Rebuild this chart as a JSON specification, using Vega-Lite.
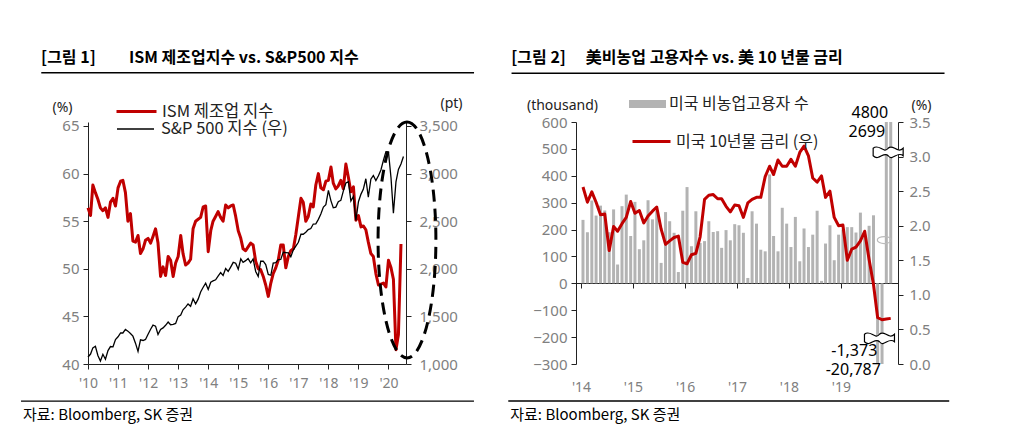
{
  "$schema": "https://vega.github.io/schema/vega-lite/v6.json",
  "padding": {"left": 20, "top": 50, "right": 10, "bottom": 10},
  "bounds": "flush",
  "spacing": 170,
  "config": {
    "font": "Noto Sans CJK KR",
    "view": {"stroke": null},
    "axis": {"grid": false, "labelColor": "#808080", "labelFontSize": 15, "labelFont": "Noto Sans", "tickColor": "#222", "domainColor": "#222", "tickSize": 5, "titleFontWeight": "normal", "titleFontSize": 14, "titleColor": "#222", "titleFont": "Noto Sans"},
    "text": {"font": "Noto Sans CJK KR"}
  },
  "datasets": {
    "left": [
      {"d":"2010-01-01","ism":56.4,"spx":1073.87},{"d":"2010-02-01","ism":55.6,"spx":1104.49},{"d":"2010-03-01","ism":58.8,"spx":1169.43},{"d":"2010-04-01","ism":58.0,"spx":1186.69},{"d":"2010-05-01","ism":57.3,"spx":1089.41},{"d":"2010-06-01","ism":56.4,"spx":1030.71},{"d":"2010-07-01","ism":56.1,"spx":1101.60},{"d":"2010-08-01","ism":56.4,"spx":1049.33},{"d":"2010-09-01","ism":55.4,"spx":1141.20},{"d":"2010-10-01","ism":57.0,"spx":1183.26},{"d":"2010-11-01","ism":57.4,"spx":1180.55},{"d":"2010-12-01","ism":56.6,"spx":1257.64},
      {"d":"2011-01-01","ism":58.5,"spx":1286.12},{"d":"2011-02-01","ism":59.2,"spx":1327.22},{"d":"2011-03-01","ism":59.3,"spx":1325.83},{"d":"2011-04-01","ism":58.0,"spx":1363.61},{"d":"2011-05-01","ism":55.0,"spx":1345.20},{"d":"2011-06-01","ism":55.8,"spx":1320.64},{"d":"2011-07-01","ism":52.9,"spx":1292.28},{"d":"2011-08-01","ism":52.8,"spx":1218.89},{"d":"2011-09-01","ism":53.5,"spx":1131.42},{"d":"2011-10-01","ism":51.6,"spx":1253.30},{"d":"2011-11-01","ism":52.1,"spx":1246.96},{"d":"2011-12-01","ism":53.0,"spx":1257.60},
      {"d":"2012-01-01","ism":53.2,"spx":1312.41},{"d":"2012-02-01","ism":52.7,"spx":1365.68},{"d":"2012-03-01","ism":53.4,"spx":1408.47},{"d":"2012-04-01","ism":54.2,"spx":1397.91},{"d":"2012-05-01","ism":52.7,"spx":1310.33},{"d":"2012-06-01","ism":49.2,"spx":1362.16},{"d":"2012-07-01","ism":50.2,"spx":1379.32},{"d":"2012-08-01","ism":49.3,"spx":1406.58},{"d":"2012-09-01","ism":51.3,"spx":1440.67},{"d":"2012-10-01","ism":50.9,"spx":1412.16},{"d":"2012-11-01","ism":49.2,"spx":1416.18},{"d":"2012-12-01","ism":50.6,"spx":1426.19},
      {"d":"2013-01-01","ism":51.3,"spx":1498.11},{"d":"2013-02-01","ism":53.5,"spx":1514.68},{"d":"2013-03-01","ism":51.6,"spx":1569.19},{"d":"2013-04-01","ism":50.4,"spx":1597.57},{"d":"2013-05-01","ism":50.6,"spx":1630.74},{"d":"2013-06-01","ism":51.0,"spx":1606.28},{"d":"2013-07-01","ism":54.2,"spx":1685.73},{"d":"2013-08-01","ism":55.0,"spx":1632.97},{"d":"2013-09-01","ism":55.2,"spx":1681.55},{"d":"2013-10-01","ism":55.4,"spx":1756.54},{"d":"2013-11-01","ism":56.5,"spx":1805.81},{"d":"2013-12-01","ism":56.6,"spx":1848.36},
      {"d":"2014-01-01","ism":51.8,"spx":1782.59},{"d":"2014-02-01","ism":54.0,"spx":1859.45},{"d":"2014-03-01","ism":55.0,"spx":1872.34},{"d":"2014-04-01","ism":55.5,"spx":1883.95},{"d":"2014-05-01","ism":56.0,"spx":1923.57},{"d":"2014-06-01","ism":55.4,"spx":1960.23},{"d":"2014-07-01","ism":55.0,"spx":1930.67},{"d":"2014-08-01","ism":56.7,"spx":2003.37},{"d":"2014-09-01","ism":56.4,"spx":1972.29},{"d":"2014-10-01","ism":56.6,"spx":2018.05},{"d":"2014-11-01","ism":56.7,"spx":2067.56},{"d":"2014-12-01","ism":55.5,"spx":2058.90},
      {"d":"2015-01-01","ism":54.0,"spx":1994.99},{"d":"2015-02-01","ism":53.2,"spx":2104.50},{"d":"2015-03-01","ism":52.1,"spx":2067.89},{"d":"2015-04-01","ism":51.9,"spx":2085.51},{"d":"2015-05-01","ism":52.3,"spx":2107.39},{"d":"2015-06-01","ism":52.7,"spx":2063.11},{"d":"2015-07-01","ism":52.5,"spx":2103.84},{"d":"2015-08-01","ism":50.8,"spx":1972.18},{"d":"2015-09-01","ism":50.0,"spx":1920.03},{"d":"2015-10-01","ism":49.9,"spx":2079.36},{"d":"2015-11-01","ism":49.2,"spx":2080.41},{"d":"2015-12-01","ism":48.3,"spx":2043.94},
      {"d":"2016-01-01","ism":47.1,"spx":1940.24},{"d":"2016-02-01","ism":48.5,"spx":1932.23},{"d":"2016-03-01","ism":49.5,"spx":2059.74},{"d":"2016-04-01","ism":50.1,"spx":2065.30},{"d":"2016-05-01","ism":50.9,"spx":2096.95},{"d":"2016-06-01","ism":52.5,"spx":2098.86},{"d":"2016-07-01","ism":52.5,"spx":2173.60},{"d":"2016-08-01","ism":50.1,"spx":2170.95},{"d":"2016-09-01","ism":51.3,"spx":2168.27},{"d":"2016-10-01","ism":51.9,"spx":2126.15},{"d":"2016-11-01","ism":52.1,"spx":2198.81},{"d":"2016-12-01","ism":53.6,"spx":2238.83},
      {"d":"2017-01-01","ism":55.5,"spx":2278.87},{"d":"2017-02-01","ism":57.4,"spx":2363.64},{"d":"2017-03-01","ism":57.0,"spx":2362.72},{"d":"2017-04-01","ism":55.0,"spx":2384.20},{"d":"2017-05-01","ism":55.5,"spx":2411.80},{"d":"2017-06-01","ism":56.8,"spx":2423.41},{"d":"2017-07-01","ism":56.5,"spx":2470.30},{"d":"2017-08-01","ism":58.8,"spx":2471.65},{"d":"2017-09-01","ism":60.0,"spx":2519.36},{"d":"2017-10-01","ism":58.5,"spx":2575.26},{"d":"2017-11-01","ism":58.3,"spx":2647.58},{"d":"2017-12-01","ism":59.2,"spx":2673.61},
      {"d":"2018-01-01","ism":59.3,"spx":2823.81},{"d":"2018-02-01","ism":60.7,"spx":2713.83},{"d":"2018-03-01","ism":59.0,"spx":2640.87},{"d":"2018-04-01","ism":58.4,"spx":2648.05},{"d":"2018-05-01","ism":58.7,"spx":2705.27},{"d":"2018-06-01","ism":59.3,"spx":2718.37},{"d":"2018-07-01","ism":58.4,"spx":2816.29},{"d":"2018-08-01","ism":61.0,"spx":2901.52},{"d":"2018-09-01","ism":59.6,"spx":2913.98},{"d":"2018-10-01","ism":58.1,"spx":2711.74},{"d":"2018-11-01","ism":58.6,"spx":2760.17},{"d":"2018-12-01","ism":55.1,"spx":2506.85},
      {"d":"2019-01-01","ism":55.6,"spx":2704.10},{"d":"2019-02-01","ism":54.4,"spx":2784.49},{"d":"2019-03-01","ism":54.5,"spx":2834.40},{"d":"2019-04-01","ism":54.1,"spx":2945.83},{"d":"2019-05-01","ism":52.8,"spx":2752.06},{"d":"2019-06-01","ism":51.6,"spx":2941.76},{"d":"2019-07-01","ism":51.3,"spx":2980.38},{"d":"2019-08-01","ism":49.5,"spx":2926.46},{"d":"2019-09-01","ism":48.3,"spx":2976.74},{"d":"2019-10-01","ism":48.4,"spx":3037.56},{"d":"2019-11-01","ism":48.5,"spx":3140.98},{"d":"2019-12-01","ism":48.1,"spx":3230.78},
      {"d":"2020-01-01","ism":50.9,"spx":3225.52},{"d":"2020-02-01","ism":50.1,"spx":2954.22},{"d":"2020-03-01","ism":48.9,"spx":2584.59},{"d":"2020-04-01","ism":41.5,"spx":2912.43},{"d":"2020-05-01","ism":43.1,"spx":3044.31},{"d":"2020-06-01","ism":52.6,"spx":3100.29},{"d":"2020-07-01","ism":null,"spx":3180}
    ],
    "right": [
      {"d":"2014-07-15","nfp":236,"y10":2.56},{"d":"2014-08-15","nfp":190,"y10":2.34},{"d":"2014-09-15","nfp":308,"y10":2.49},{"d":"2014-10-15","nfp":252,"y10":2.34},{"d":"2014-11-15","nfp":289,"y10":2.16},{"d":"2014-12-15","nfp":271,"y10":2.17},
      {"d":"2015-01-15","nfp":190,"y10":1.64},{"d":"2015-02-15","nfp":275,"y10":1.99},{"d":"2015-03-15","nfp":70,"y10":1.92},{"d":"2015-04-15","nfp":287,"y10":2.03},{"d":"2015-05-15","nfp":330,"y10":2.12},{"d":"2015-06-15","nfp":176,"y10":2.35},{"d":"2015-07-15","nfp":303,"y10":2.18},{"d":"2015-08-15","nfp":127,"y10":2.22},{"d":"2015-09-15","nfp":160,"y10":2.04},{"d":"2015-10-15","nfp":309,"y10":2.14},{"d":"2015-11-15","nfp":238,"y10":2.21},{"d":"2015-12-15","nfp":270,"y10":2.27},
      {"d":"2016-01-15","nfp":76,"y10":1.95},{"d":"2016-02-15","nfp":265,"y10":1.73},{"d":"2016-03-15","nfp":231,"y10":1.78},{"d":"2016-04-15","nfp":188,"y10":1.83},{"d":"2016-05-15","nfp":42,"y10":1.85},{"d":"2016-06-15","nfp":270,"y10":1.47},{"d":"2016-07-15","nfp":358,"y10":1.45},{"d":"2016-08-15","nfp":138,"y10":1.58},{"d":"2016-09-15","nfp":268,"y10":1.60},{"d":"2016-10-15","nfp":150,"y10":1.84},{"d":"2016-11-15","nfp":157,"y10":2.38},{"d":"2016-12-15","nfp":231,"y10":2.44},
      {"d":"2017-01-15","nfp":191,"y10":2.45},{"d":"2017-02-15","nfp":194,"y10":2.39},{"d":"2017-03-15","nfp":132,"y10":2.39},{"d":"2017-04-15","nfp":198,"y10":2.28},{"d":"2017-05-15","nfp":160,"y10":2.20},{"d":"2017-06-15","nfp":220,"y10":2.30},{"d":"2017-07-15","nfp":216,"y10":2.29},{"d":"2017-08-15","nfp":188,"y10":2.12},{"d":"2017-09-15","nfp":20,"y10":2.33},{"d":"2017-10-15","nfp":268,"y10":2.38},{"d":"2017-11-15","nfp":222,"y10":2.41},{"d":"2017-12-15","nfp":125,"y10":2.41},
      {"d":"2018-01-15","nfp":119,"y10":2.71},{"d":"2018-02-15","nfp":405,"y10":2.86},{"d":"2018-03-15","nfp":176,"y10":2.74},{"d":"2018-04-15","nfp":119,"y10":2.95},{"d":"2018-05-15","nfp":281,"y10":2.86},{"d":"2018-06-15","nfp":222,"y10":2.86},{"d":"2018-07-15","nfp":135,"y10":2.96},{"d":"2018-08-15","nfp":247,"y10":2.86},{"d":"2018-09-15","nfp":82,"y10":3.06},{"d":"2018-10-15","nfp":204,"y10":3.15},{"d":"2018-11-15","nfp":135,"y10":3.01},{"d":"2018-12-15","nfp":181,"y10":2.69},
      {"d":"2019-01-15","nfp":270,"y10":2.63},{"d":"2019-02-15","nfp":9,"y10":2.72},{"d":"2019-03-15","nfp":148,"y10":2.41},{"d":"2019-04-15","nfp":216,"y10":2.50},{"d":"2019-05-15","nfp":86,"y10":2.12},{"d":"2019-06-15","nfp":181,"y10":2.00},{"d":"2019-07-15","nfp":200,"y10":2.01},{"d":"2019-08-15","nfp":209,"y10":1.50},{"d":"2019-09-15","nfp":209,"y10":1.66},{"d":"2019-10-15","nfp":189,"y10":1.69},{"d":"2019-11-15","nfp":263,"y10":1.78},{"d":"2019-12-15","nfp":184,"y10":1.92},
      {"d":"2020-01-15","nfp":214,"y10":1.51},{"d":"2020-02-15","nfp":253,"y10":1.15},{"d":"2020-03-15","nfp":-1373,"y10":0.67},{"d":"2020-04-15","nfp":-20787,"y10":0.64},{"d":"2020-05-15","nfp":2699,"y10":0.65},{"d":"2020-06-15","nfp":4800,"y10":0.66}
    ]
  },
  "hconcat": [
    {
      "width": 318,
      "height": 242,
      "layer": [
        {
          "data": {"name": "left"},
          "mark": {"type": "line", "strokeWidth": 3, "strokeJoin": "round"},
          "encoding": {
            "x": {"field": "d", "type": "temporal", "title": null,
              "scale": {"type": "utc", "domain": [{"year":2010,"month":1,"date":1,"utc":true},{"year":2020,"month":8,"date":1,"utc":true}]},
              "axis": {"values": [1262304000000, 1293840000000, 1325376000000, 1356998400000, 1388534400000, 1420070400000, 1451606400000, 1483228800000, 1514764800000, 1546300800000, 1577836800000],
                "tickCount": 20, "labelExpr": "\"'\" + utcFormat(datum.value, '%y')", "labelPadding": 7, "labelFlush": false, "labelFontSize": 14, "labelOverlap": false, "labelSeparation": 0}},
            "y": {"field": "ism", "type": "quantitative",
              "scale": {"domain": [40, 65.42], "nice": false, "zero": false},
              "axis": {"values": [40, 45, 50, 55, 60, 65], "tickCount": 20, "title": "(%)", "titleAngle": 0, "titleAlign": "center", "titleBaseline": "middle", "titleX": -26, "titleY": -15, "labelPadding": 4}},
            "stroke": {"datum": "ISM 제조업 지수", "type": "nominal", "scale": {"range": ["#c00000"]},
              "legend": {"orient": "none", "legendX": 27, "legendY": -32, "title": null, "symbolType": "stroke", "symbolSize": 1600, "symbolStrokeWidth": 3, "labelFontSize": 16.5, "labelColor": "#222", "labelOffset": 4, "padding": 0}}
          }
        },
        {
          "data": {"name": "left"},
          "mark": {"type": "line", "strokeWidth": 1.3},
          "encoding": {
            "x": {"field": "d", "type": "temporal", "title": null,
              "scale": {"type": "utc", "domain": [{"year":2010,"month":1,"date":1,"utc":true},{"year":2020,"month":8,"date":1,"utc":true}]},
              "axis": {"values": [1262304000000, 1293840000000, 1325376000000, 1356998400000, 1388534400000, 1420070400000, 1451606400000, 1483228800000, 1514764800000, 1546300800000, 1577836800000],
                "tickCount": 20, "labelExpr": "\"'\" + utcFormat(datum.value, '%y')", "labelPadding": 7, "labelFlush": false, "labelFontSize": 14, "labelOverlap": false, "labelSeparation": 0}},
            "y": {"field": "spx", "type": "quantitative",
              "scale": {"domain": [1000, 3542], "nice": false, "zero": false},
              "axis": {"orient": "right", "values": [1000, 1500, 2000, 2500, 3000, 3500], "tickCount": 20, "format": ",.0f", "title": "(pt)", "titleAngle": 0, "titleAlign": "center", "titleBaseline": "middle", "titleX": 45, "titleY": -19, "labelPadding": 8}},
            "stroke": {"datum": "S&P 500 지수 (우)", "type": "nominal", "scale": {"range": ["#000000"]},
              "legend": {"orient": "none", "legendX": 28, "legendY": -12.5, "title": null, "symbolType": "stroke", "symbolSize": 1369, "symbolStrokeWidth": 1.3, "labelFontSize": 16.5, "labelColor": "#222", "labelOffset": 6, "padding": 0}}
          }
        },
        {
          "data": {"values": [{}]},
          "layer": [
            {"mark": {"type": "rule", "color": "#000", "strokeWidth": 1.3},
             "encoding": {"x": {"datum": {"year":2007,"month":10,"date":10,"utc":true}, "type": "temporal", "scale": {"type": "utc", "domain": [{"year":2010,"month":1,"date":1,"utc":true},{"year":2020,"month":8,"date":1,"utc":true}]}},
                          "x2": {"datum": {"year":2022,"month":11,"date":5,"utc":true}},
                          "y": {"datum": 36.11, "type": "quantitative", "scale": {"domain": [40, 65.42], "nice": false, "zero": false}, "axis": null}}},
            {"mark": {"type": "rule", "color": "#000", "strokeWidth": 1.4},
             "encoding": {"x": {"datum": {"year":2008,"month":6,"date":12,"utc":true}, "type": "temporal"},
                          "x2": {"datum": {"year":2022,"month":11,"date":6,"utc":true}},
                          "y": {"datum": 70.6, "type": "quantitative"}}},
            {"mark": {"type": "text", "text": "자료: Bloomberg, SK 증권", "align": "left", "baseline": "middle", "fontSize": 15, "color": "#000"},
             "encoding": {"x": {"datum": {"year":2007,"month":11,"date":3,"utc":true}, "type": "temporal"},
                          "y": {"datum": 34.64, "type": "quantitative"}}},
            {"mark": {"type": "text", "text": "[그림 1]", "align": "left", "baseline": "top", "fontSize": 16, "fontWeight": "bold", "color": "#000"},
             "encoding": {"x": {"datum": {"year":2008,"month":6,"date":10,"utc":true}, "type": "temporal"},
                          "y": {"datum": 72.98, "type": "quantitative"}}},
            {"mark": {"type": "text", "text": "ISM 제조업지수 vs. S&P500 지수", "align": "left", "baseline": "top", "fontSize": 16, "fontWeight": "bold", "color": "#000"},
             "encoding": {"x": {"datum": {"year":2011,"month":5,"date":14,"utc":true}, "type": "temporal"},
                          "y": {"datum": 72.98, "type": "quantitative"}}},
            {"mark": {"type": "point", "shape": "M 0 -1 C 0.1353 -1 0.245 -0.5523 0.245 0 C 0.245 0.5523 0.1353 1 0 1 C -0.1353 1 -0.245 0.5523 -0.245 0 C -0.245 -0.5523 -0.1353 -1 0 -1 Z", "size": 55696, "filled": false, "stroke": "#000", "strokeWidth": 3, "strokeDash": [12, 7], "opacity": 1},
             "encoding": {"x": {"datum": {"year":2020,"month":8,"date":13,"utc":true}, "type": "temporal"},
                          "y": {"datum": 53.03, "type": "quantitative"}}}
          ]
        }
      ],
      "resolve": {"scale": {"y": "independent", "stroke": "independent"}}
    },
    {
      "width": 322,
      "height": 242,
      "layer": [
        {
          "data": {"name": "right"},
          "mark": {"type": "bar", "size": 3},
          "encoding": {
            "x": {"field": "d", "type": "temporal", "title": null,
              "scale": {"type": "utc", "domain": [{"year":2014,"month":7,"date":1,"utc":true},{"year":2020,"month":7,"date":1,"utc":true}]},
              "axis": {"values": [{"year":2014,"month":7,"date":1,"utc":true},{"year":2015,"month":7,"date":1,"utc":true},{"year":2016,"month":7,"date":1,"utc":true},{"year":2017,"month":7,"date":1,"utc":true},{"year":2018,"month":7,"date":1,"utc":true},{"year":2019,"month":7,"date":1,"utc":true}],
                "tickCount": 20, "labelExpr": "\"'\" + utcFormat(datum.value, '%y')", "offset": -81, "labelPadding": 92, "labelFlush": false, "labelFontSize": 14}},
            "y": {"field": "nfp", "type": "quantitative",
              "scale": {"domain": [-300, 600], "nice": false, "clamp": true},
              "axis": {"values": [-300, -200, -100, 0, 100, 200, 300, 400, 500, 600], "tickCount": 20, "title": "(thousand)", "titleAngle": 0, "titleAlign": "center", "titleBaseline": "middle", "titleX": -14, "titleY": -17, "labelPadding": 4}},
            "fill": {"datum": "미국 비농업고용자 수", "type": "nominal", "scale": {"range": ["#b3b3b3"]},
              "legend": {"orient": "none", "legendX": 541, "legendY": -36.5, "title": null, "symbolType": "M -1 -0.22 L 1 -0.22 L 1 0.22 L -1 0.22 Z", "symbolSize": 1369, "symbolStrokeWidth": 0, "labelFontSize": 16, "labelColor": "#222", "labelOffset": 3, "padding": 0}}
          }
        },
        {
          "data": {"name": "right"},
          "mark": {"type": "line", "strokeWidth": 3, "strokeJoin": "round"},
          "encoding": {
            "x": {"field": "d", "type": "temporal", "title": null,
              "scale": {"type": "utc", "domain": [{"year":2014,"month":7,"date":1,"utc":true},{"year":2020,"month":7,"date":1,"utc":true}]}},
            "y": {"field": "y10", "type": "quantitative",
              "scale": {"domain": [0, 3.5], "nice": false},
              "axis": {"orient": "right", "values": [0, 0.5, 1, 1.5, 2, 2.5, 3, 3.5], "tickCount": 20, "format": ".1f", "title": "(%)", "titleAngle": 0, "titleAlign": "center", "titleBaseline": "middle", "titleX": 23, "titleY": -17, "labelPadding": 6}},
            "stroke": {"datum": "미국 10년물 금리 (우)", "type": "nominal", "scale": {"range": ["#c00000"]},
              "legend": {"orient": "none", "legendX": 543, "legendY": -1, "title": null, "symbolType": "stroke", "symbolSize": 1444, "symbolStrokeWidth": 3, "labelFontSize": 16, "labelColor": "#222", "labelOffset": 4, "padding": 0}}
          }
        },
        {
          "data": {"values": [{}]},
          "layer": [
            {"mark": {"type": "rule", "color": "#000", "strokeWidth": 1.3},
             "encoding": {"x": {"datum": {"year":2013,"month":2,"date":5,"utc":true}, "type": "temporal", "scale": {"type": "utc", "domain": [{"year":2014,"month":7,"date":1,"utc":true},{"year":2020,"month":7,"date":1,"utc":true}]}},
                          "x2": {"datum": {"year":2021,"month":7,"date":31,"utc":true}},
                          "y": {"datum": -0.535, "type": "quantitative", "scale": {"domain": [0, 3.5], "nice": false}, "axis": null}}},
            {"mark": {"type": "rule", "color": "#000", "strokeWidth": 1.4},
             "encoding": {"x": {"datum": {"year":2013,"month":2,"date":28,"utc":true}, "type": "temporal"},
                          "x2": {"datum": {"year":2021,"month":6,"date":28,"utc":true}},
                          "y": {"datum": 4.205, "type": "quantitative"}}},
            {"mark": {"type": "text", "text": "자료: Bloomberg, SK 증권", "align": "left", "baseline": "middle", "fontSize": 15, "color": "#000"},
             "encoding": {"x": {"datum": {"year":2013,"month":2,"date":19,"utc":true}, "type": "temporal"},
                          "y": {"datum": -0.738, "type": "quantitative"}}},
            {"mark": {"type": "text", "text": "[그림 2]", "align": "left", "baseline": "top", "fontSize": 16, "fontWeight": "bold", "color": "#000"},
             "encoding": {"x": {"datum": {"year":2013,"month":2,"date":26,"utc":true}, "type": "temporal"},
                          "y": {"datum": 4.541, "type": "quantitative"}}},
            {"mark": {"type": "text", "text": "美비농업 고용자수 vs. 美 10 년물 금리", "align": "left", "baseline": "top", "fontSize": 16, "fontWeight": "bold", "color": "#000"},
             "encoding": {"x": {"datum": {"year":2014,"month":8,"date":4,"utc":true}, "type": "temporal"},
                          "y": {"datum": 4.541, "type": "quantitative"}}},
            {"mark": {"type": "point", "shape": "M -1 -0.25 C -0.6 -0.6 -0.3 0.15 0 -0.25 C 0.3 -0.6 0.6 0.15 1 -0.25 L 1 0.25 C 0.6 -0.1 0.3 0.65 0 0.25 C -0.3 -0.1 -0.6 0.65 -1 0.25 Z", "size": 900, "filled": true, "fill": "#ffffff", "stroke": "#000", "strokeWidth": 1.2, "opacity": 1},
             "encoding": {"x": {"datum": {"year":2020,"month":5,"date":28,"utc":true}, "type": "temporal"},
                          "y": {"datum": 3.066, "type": "quantitative"}}},
            {"mark": {"type": "point", "shape": "M -1 -0.25 C -0.6 -0.6 -0.3 0.15 0 -0.25 C 0.3 -0.6 0.6 0.15 1 -0.25 L 1 0.25 C 0.6 -0.1 0.3 0.65 0 0.25 C -0.3 -0.1 -0.6 0.65 -1 0.25 Z", "size": 900, "filled": true, "fill": "#ffffff", "stroke": "#000", "strokeWidth": 1.2, "opacity": 1},
             "encoding": {"x": {"datum": {"year":2020,"month":3,"date":28,"utc":true}, "type": "temporal"},
                          "y": {"datum": 0.376, "type": "quantitative"}}},
            {"mark": {"type": "point", "shape": "M -1 0 C -1 -0.28 -0.55 -0.5 0 -0.5 C 0.55 -0.5 1 -0.28 1 0 C 1 0.28 0.55 0.5 0 0.5 C -0.55 0.5 -1 0.28 -1 0 Z", "size": 196, "filled": false, "stroke": "#bbbbbb", "strokeWidth": 1.2, "opacity": 1},
             "encoding": {"x": {"datum": {"year":2020,"month":5,"date":1,"utc":true}, "type": "temporal"},
                          "y": {"datum": 1.793, "type": "quantitative"}}},
            {"mark": {"type": "text", "text": "4800", "align": "center", "baseline": "middle", "fontSize": 16, "font": "Noto Sans", "color": "#000"},
             "encoding": {"x": {"datum": {"year":2020,"month":1,"date":20,"utc":true}, "type": "temporal"},
                          "y": {"datum": 3.63, "type": "quantitative"}}},
            {"mark": {"type": "text", "text": "2699", "align": "center", "baseline": "middle", "fontSize": 16, "font": "Noto Sans", "color": "#000"},
             "encoding": {"x": {"datum": {"year":2019,"month":12,"date":30,"utc":true}, "type": "temporal"},
                          "y": {"datum": 3.355, "type": "quantitative"}}},
            {"mark": {"type": "text", "text": "-1,373", "align": "center", "baseline": "middle", "fontSize": 16, "font": "Noto Sans", "color": "#000"},
             "encoding": {"x": {"datum": {"year":2019,"month":10,"date":3,"utc":true}, "type": "temporal"},
                          "y": {"datum": 0.188, "type": "quantitative"}}},
            {"mark": {"type": "text", "text": "-20,787", "align": "center", "baseline": "middle", "fontSize": 16, "font": "Noto Sans", "color": "#000"},
             "encoding": {"x": {"datum": {"year":2019,"month":9,"date":26,"utc":true}, "type": "temporal"},
                          "y": {"datum": -0.087, "type": "quantitative"}}}
          ]
        }
      ],
      "resolve": {"scale": {"y": "independent"}}
    }
  ]
}
